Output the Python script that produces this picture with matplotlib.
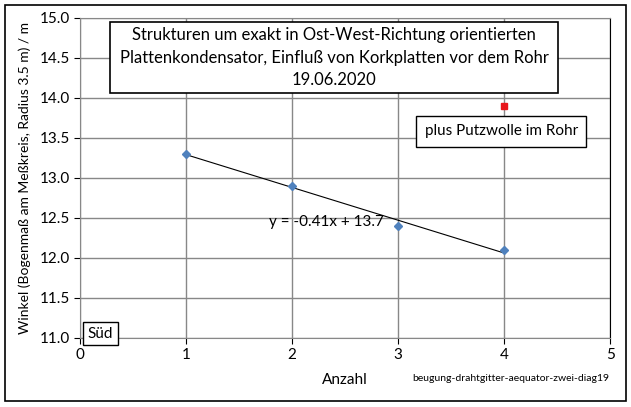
import matplotlib.pyplot as plt
import numpy as np
from matplotlib.patches import Rectangle

# Messwerte
anzahl = [1, 2, 3, 4]
winkel = [13.3, 12.9, 12.4, 12.1]
putz_x = [4]
putz_y = [13.9]

plt.rcParams['font.family'] = ['Lato', 'DejaVu Sans']

fig = plt.figure(figsize=(6.31, 4.07), dpi=100)
# aeusserer Rahmen
fig.patches.append(Rectangle((0.008, 0.015), 0.984, 0.972, transform=fig.transFigure,
                             fill=False, edgecolor='black', linewidth=1.2))

ax = fig.add_axes([0.127, 0.17, 0.84, 0.786])
ax.set_xlim(0, 5)
ax.set_ylim(11, 15)
ax.set_xticks(np.arange(0, 6, 1))
ax.set_yticks(np.arange(11, 15.01, 0.5))
ax.set_yticklabels([f"{v:.1f}" for v in np.arange(11, 15.01, 0.5)])
ax.grid(True, color='#888888', linewidth=1)
ax.set_axisbelow(True)
for s in ['left', 'bottom', 'top']:
    ax.spines[s].set_color('#888888')
ax.spines['right'].set_color('black')
ax.tick_params(colors='black', labelsize=11, length=4, direction='out')
for t in ax.get_xticklines() + ax.get_yticklines():
    t.set_color('#888888')

# Trendlinie
k, d = np.polyfit(anzahl, winkel, 1)
xs = np.array([min(anzahl), max(anzahl)])
ax.plot(xs, k * xs + d, color='black', linewidth=0.8, zorder=3)
ax.plot(anzahl, winkel, linestyle='none', marker='D', markersize=4.5,
        color='#4f81bd', zorder=4)
ax.plot(putz_x, putz_y, linestyle='none', marker='s', markersize=5,
        color='#e8161b', zorder=4)

ax.text(1.78, 12.4, f"y = {k:.2f}x + {d:.1f}", fontsize=11, zorder=5)

# Titelkasten
ax.add_patch(Rectangle((0.28, 14.06), 4.23, 0.89, facecolor='white', edgecolor='black',
                       linewidth=1.2, zorder=5))
ax.text(2.395, 14.5, "Strukturen um exakt in Ost-West-Richtung orientierten\n"
        "Plattenkondensator, Einfluß von Korkplatten vor dem Rohr\n19.06.2020",
        ha='center', va='center', fontsize=12.0, linespacing=1.5, zorder=6)
ax.text(3.25, 13.58, "plus Putzwolle im Rohr", ha='left', va='center', fontsize=11, zorder=6,
        bbox=dict(boxstyle='square,pad=0.55', facecolor='white', edgecolor='black', linewidth=1))
ax.text(0.07, 11.05, "Süd", ha='left', va='center', fontsize=11, zorder=6,
        bbox=dict(boxstyle='square,pad=0.3', facecolor='white', edgecolor='black', linewidth=1))

ax.set_xlabel("Anzahl", fontsize=11, labelpad=8)
ax.set_ylabel("Winkel (Bogenmaß am Meßkreis, Radius 3.5 m) / m", fontsize=10, labelpad=6)

fig.text(0.653, 0.064, "beugung-drahtgitter-aequator-zwei-diag19", fontsize=7.5)

plt.savefig("out.png", dpi=100)
